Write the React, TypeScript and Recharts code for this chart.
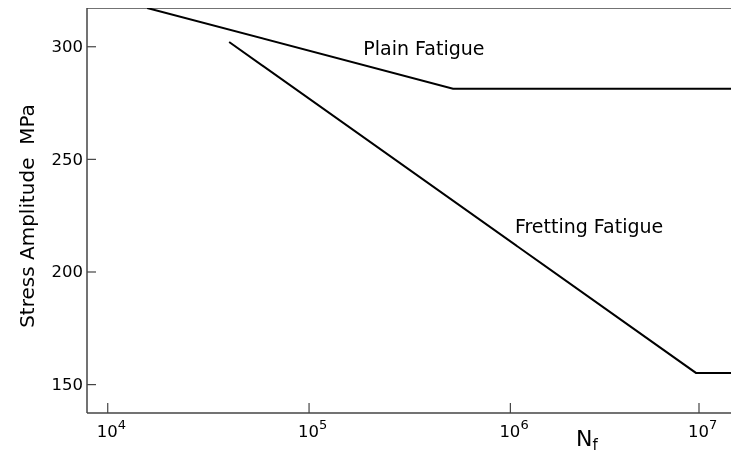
import { LineChart, Line, XAxis, YAxis, ReferenceLine, ReferenceDot } from 'recharts';

// S-N curves (cycles to failure vs stress amplitude, MPa)
const plainCycles = [15700, 519000, 12470000];
const plainStress = [317.2, 281.4, 281.4];
const frettingCycles = [40100, 8350000, 12470000];
const frettingStress = [302.1, 155.2, 155.2];

const xTicks = [1e4, 1e5, 1e6, 1e7];
const yTicks = [150, 200, 250, 300];
const xDomain = [7889, 12470000];
const yDomain = [137.4, 317.2];

const curveLabels = [
  { text: 'Plain Fatigue', n: 372000, s: 299.4 },
  { text: 'Fretting Fatigue', n: 2460000, s: 220.5 },
];

const plainData = plainCycles.map((n, i) => ({ n, s: plainStress[i] }));
const frettingData = frettingCycles.map((n, i) => ({ n, s: frettingStress[i] }));

const FONT = '"DejaVu Sans", sans-serif';
const AXIS = '#444';

function YTick({ x, y, payload }: any) {
  return (
    <g>
      <line x1={x} y1={y} x2={x + 9} y2={y} stroke={AXIS} strokeWidth={1.2} />
      <text x={x - 4} y={y} textAnchor="end" dominantBaseline="central" fontSize={16.5} fontFamily={FONT} fill="#000">
        {payload.value}
      </text>
    </g>
  );
}

function XTick({ x, y, payload }: any) {
  const exp = Math.round(Math.log10(payload.value));
  return (
    <g>
      <line x1={x} y1={y} x2={x} y2={y - 10} stroke={AXIS} strokeWidth={1.2} />
      <text x={x - 11} y={y + 24} fontSize={16.5} fontFamily={FONT} fill="#000">
        10
        <tspan dy={-8} fontSize={13}>{exp}</tspan>
      </text>
    </g>
  );
}

function CurveLabel({ cx, cy, text }: any) {
  return (
    <text x={cx} y={cy} textAnchor="middle" dominantBaseline="central" fontSize={19} fontFamily={FONT} fill="#000">
      {text}
    </text>
  );
}

export default function App() {
  return (
    <div style={{ position: 'fixed', left: 8, top: 8 }}>
      <LineChart width={723} height={445} margin={{ top: 0, right: 0, bottom: 0, left: 0 }}>
        <XAxis
          type="number"
          dataKey="n"
          scale="log"
          domain={xDomain}
          ticks={xTicks}
          allowDataOverflow
          height={40}
          tickSize={0}
          tickMargin={0}
          tickLine={false}
          axisLine={{ stroke: AXIS, strokeWidth: 1.5 }}
          tick={<XTick />}
          label={{
            content: ({ viewBox }: any) => (
              <text x={viewBox.x + 489} y={viewBox.y + 33} fontSize={22} fontFamily={FONT} fill="#000">
                N<tspan dy={4} fontSize={15}>f</tspan>
              </text>
            ),
          }}
        />
        <YAxis
          type="number"
          dataKey="s"
          domain={yDomain}
          ticks={yTicks}
          allowDataOverflow
          width={79}
          tickSize={0}
          tickMargin={0}
          tickLine={false}
          axisLine={{ stroke: AXIS, strokeWidth: 1.5 }}
          tick={<YTick />}
          label={{
            content: () => (
              <text
                x={19}
                y={208}
                transform="rotate(-90 19 208)"
                textAnchor="middle"
                dominantBaseline="central"
                fontSize={20}
                fontFamily={FONT}
                fill="#000"
              >
                {'Stress Amplitude\u00a0\u00a0MPa'}
              </text>
            ),
          }}
        />
        <ReferenceLine y={yDomain[1]} stroke={AXIS} strokeWidth={1.5} />
        <Line data={plainData} dataKey="s" stroke="#000" strokeWidth={2} dot={false} isAnimationActive={false} />
        <Line data={frettingData} dataKey="s" stroke="#000" strokeWidth={2} dot={false} isAnimationActive={false} />
        {curveLabels.map((l) => (
          <ReferenceDot
            key={l.text}
            x={l.n}
            y={l.s}
            r={0}
            shape={(p: any) => <CurveLabel cx={p.cx} cy={p.cy} text={l.text} />}
          />
        ))}
      </LineChart>
    </div>
  );
}
